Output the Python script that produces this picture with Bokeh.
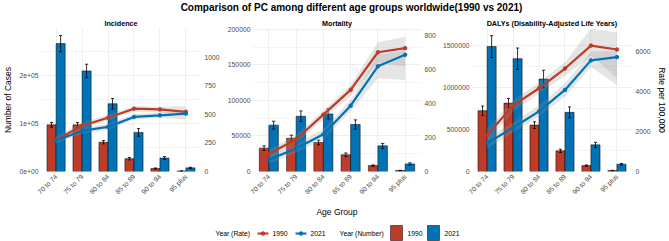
import math
from bokeh.plotting import figure
from bokeh.models import (FactorRange, Range1d, LinearAxis, FixedTicker, ColumnDataSource,
                          Label, BasicTickFormatter)
from bokeh.layouts import column, row
from bokeh.transform import dodge
from bokeh.embed import file_html
from bokeh.resources import INLINE

# ---------------- data ----------------
ages = ["70 to 74", "75 to 79", "80 to 84", "85 to 89", "90 to 94", "95 plus"]
years = ["1990", "2021"]

# Incidence
inc_num_1990 = [97500, 97500, 61200, 26800, 6200, 1000]
inc_num_2021 = [267400, 210300, 141600, 81800, 28200, 7600]
inc_err_1990 = [5000, 5000, 3500, 2500, 1200, 400]
inc_err_2021 = [17000, 14000, 11000, 8000, 3000, 1200]
inc_rate_1990 = [275, 400, 470, 549, 543, 522]
inc_rate_2021 = [270, 356, 390, 477, 491, 506]
inc_lo_1990 = [245, 375, 445, 525, 515, 490]
inc_hi_1990 = [305, 425, 495, 570, 565, 571]
inc_lo_2021 = [245, 330, 365, 455, 470, 455]
inc_hi_2021 = [295, 380, 415, 500, 515, 530]

# Mortality
mor_num_1990 = [32900, 46800, 40800, 23600, 8300, 1400]
mor_num_2021 = [65300, 77800, 81100, 66200, 36100, 10700]
mor_err_1990 = [3200, 4300, 3300, 2500, 1000, 300]
mor_err_2021 = [5500, 7500, 7000, 6500, 3500, 1500]
mor_rate_1990 = [103, 190, 335, 481, 703, 727]
mor_rate_2021 = [70, 136, 219, 388, 620, 688]
mor_lo_1990 = [80, 165, 310, 445, 640, 620]
mor_hi_1990 = [130, 215, 360, 510, 762, 795]
mor_lo_2021 = [45, 110, 190, 355, 549, 539]
mor_hi_2021 = [95, 160, 250, 420, 690, 713]

# DALYs
daly_num_1990 = [724000, 814000, 552000, 246000, 70000, 12000]
daly_num_2021 = [1487000, 1343000, 1100000, 704000, 317000, 87000]
daly_err_1990 = [55000, 55000, 40000, 20000, 8000, 2000]
daly_err_2021 = [130000, 127000, 105000, 65000, 30000, 9000]
daly_rate_1990 = [1827, 3294, 4168, 5156, 6306, 6109]
daly_rate_2021 = [1417, 2193, 3012, 4084, 5565, 5728]
daly_lo_1990 = [1500, 3000, 3900, 4800, 5800, 4680]
daly_hi_1990 = [2150, 3550, 4450, 5480, 7150, 6960]
daly_lo_2021 = [1150, 1950, 2750, 3750, 5230, 4330]
daly_hi_2021 = [1700, 2450, 3300, 4400, 6000, 6060]

# tick labels
inc_ticks = [0, 100000, 200000]
inc_tick_labels = ["0e+00", "1e+05", "2e+05"]
inc_rate_ticks = [0, 250, 500, 750, 1000]
mor_ticks = [0, 50000, 100000, 150000, 200000]
mor_rate_ticks = [0, 200, 400, 600, 800]
daly_ticks = [0, 500000, 1000000, 1500000]
daly_rate_ticks = [0, 2000, 4000, 6000]

RED = "#BC3C29"
BLUE = "#0072B5"
FONT = "Liberation Sans"
TICK_COL = "#4D4D4D"
TICK_SIZE = "6.8px"
GRID = "#EBEBEB"

PANEL_H = 205
BW = 0.35


def style_axis(ax):
    ax.axis_line_color = None
    ax.major_tick_line_color = None
    ax.minor_tick_line_color = None
    ax.major_tick_out = 0
    ax.major_tick_in = 0
    ax.minor_tick_out = 0
    ax.minor_tick_in = 0
    ax.major_label_text_font = FONT
    ax.major_label_text_font_size = TICK_SIZE
    ax.major_label_text_color = TICK_COL
    ax.axis_label_text_font = FONT
    ax.axis_label_text_font_style = "normal"
    ax.axis_label_text_font_size = "8.5px"
    ax.axis_label_text_color = "black"


def make_panel(title, n90, n21, e90, e21, r90, r21, lo90, hi90, lo21, hi21,
               y_end, r_end, yticks, rticks, width, mbl, mbr,
               ylabels=None, left_label=None, right_label=None, x_label=None):
    src = ColumnDataSource(dict(
        age=ages, n90=n90, n21=n21,
        n90lo=[a - b for a, b in zip(n90, e90)], n90hi=[a + b for a, b in zip(n90, e90)],
        n21lo=[a - b for a, b in zip(n21, e21)], n21hi=[a + b for a, b in zip(n21, e21)],
        r90=r90, r21=r21, lo90=lo90, hi90=hi90, lo21=lo21, hi21=hi21))
    xr = FactorRange(factors=ages, range_padding=1 / 30, range_padding_units="percent")
    p = figure(x_range=xr, y_range=Range1d(0, y_end), width=width, height=PANEL_H,
               output_backend="svg", toolbar_location=None, title=title,
               min_border_left=mbl, min_border_right=mbr, min_border_top=14, min_border_bottom=46,
               outline_line_color=None, background_fill_color="white", border_fill_color="white")
    p.title.align = "center"
    p.title.text_font = FONT
    p.title.text_font_style = "bold"
    p.title.text_font_size = "7.2px"
    p.title.text_color = "black"
    p.title.standoff = 1
    p.title.offset = 0
    p.extra_y_ranges = {"rate": Range1d(0, r_end)}

    # grid
    p.xgrid.grid_line_color = GRID
    p.xgrid.grid_line_width = 0.8
    p.ygrid.grid_line_color = GRID
    p.ygrid.grid_line_width = 0.8
    p.ygrid.minor_grid_line_color = GRID
    p.ygrid.minor_grid_line_width = 0.5

    # bars with error bars
    for off, col, key in [(-BW / 2, RED, "n90"), (BW / 2, BLUE, "n21")]:
        p.vbar(x=dodge("age", off, range=xr), top=key, bottom=0, width=BW, source=src,
               fill_color=col, line_color="black", line_width=0.5)
        p.segment(x0=dodge("age", off, range=xr), x1=dodge("age", off, range=xr),
                  y0=key + "lo", y1=key + "hi", source=src, line_color="black", line_width=0.8)
        for end in ("lo", "hi"):
            p.segment(x0=dodge("age", off - 0.06, range=xr), x1=dodge("age", off + 0.06, range=xr),
                      y0=key + end, y1=key + end, source=src, line_color="black", line_width=0.8)

    # ribbons and rate lines
    for lo, hi in [("lo90", "hi90"), ("lo21", "hi21")]:
        p.varea(x="age", y1=lo, y2=hi, source=src, y_range_name="rate",
                fill_color="#999999", fill_alpha=0.25)
    for key, col in [("r90", RED), ("r21", BLUE)]:
        p.line(x="age", y=key, source=src, y_range_name="rate", line_color=col, line_width=2.2)
        p.scatter(x="age", y=key, source=src, y_range_name="rate", size=3.5, marker="circle",
                  fill_color=col, line_color=col)

    # axes
    yax = p.yaxis[0]
    minor = [(a + b) / 2 for a, b in zip(yticks[:-1], yticks[1:])] + [yticks[-1] + (yticks[1] - yticks[0]) / 2]
    yax.ticker = FixedTicker(ticks=yticks, minor_ticks=minor)
    if ylabels:
        yax.major_label_overrides = {t: l for t, l in zip(yticks, ylabels)}
    else:
        yax.formatter = BasicTickFormatter(use_scientific=False)
    style_axis(yax)
    yax.major_label_standoff = 2
    if left_label:
        yax.axis_label = left_label
        yax.axis_label_standoff = 3

    rax = LinearAxis(y_range_name="rate", ticker=FixedTicker(ticks=rticks),
                     formatter=BasicTickFormatter(use_scientific=False))
    style_axis(rax)
    rax.major_label_standoff = 3
    if right_label:
        rax.axis_label = right_label
        rax.axis_label_standoff = 3
    p.add_layout(rax, "right")

    xax = p.xaxis[0]
    style_axis(xax)
    xax.major_label_orientation = math.pi / 4
    xax.major_label_standoff = 4
    if x_label:
        xax.axis_label = x_label
        xax.axis_label_standoff = 6
    return p


p1 = make_panel("Incidence", inc_num_1990, inc_num_2021, inc_err_1990, inc_err_2021,
                inc_rate_1990, inc_rate_2021, inc_lo_1990, inc_hi_1990, inc_lo_2021, inc_hi_2021,
                299000, 1250, inc_ticks, inc_rate_ticks, 224, 36, 23,
                ylabels=inc_tick_labels, left_label="Number of Cases")
p2 = make_panel("Mortality", mor_num_1990, mor_num_2021, mor_err_1990, mor_err_2021,
                mor_rate_1990, mor_rate_2021, mor_lo_1990, mor_hi_1990, mor_lo_2021, mor_hi_2021,
                201400, 843, mor_ticks, mor_rate_ticks, 216, 28, 19, x_label="Age Group")
p3 = make_panel("DALYs (Disability-Adjusted Life Years)", daly_num_1990, daly_num_2021,
                daly_err_1990, daly_err_2021, daly_rate_1990, daly_rate_2021,
                daly_lo_1990, daly_hi_1990, daly_lo_2021, daly_hi_2021,
                1702000, 7160, daly_ticks, daly_rate_ticks, 229, 30, 30,
                right_label="Rate per 100,000")

# ---------------- title ----------------
tf = figure(width=669, height=14, x_range=Range1d(0, 669), y_range=Range1d(0, 14),
            output_backend="svg", toolbar_location=None, min_border=0,
            outline_line_color=None, x_axis_location=None, y_axis_location=None)
tf.grid.visible = False
tf.add_layout(Label(x=351, y=7, text="Comparison of PC among different age groups worldwide(1990 vs 2021)",
                    text_font=FONT, text_font_style="bold", text_font_size="10px",
                    text_align="center", text_baseline="middle", text_color="black"))

# ---------------- legend ----------------
lf = figure(width=669, height=22, x_range=Range1d(0, 669), y_range=Range1d(0, 22),
            output_backend="svg", toolbar_location=None, min_border=0,
            outline_line_color=None, x_axis_location=None, y_axis_location=None)
lf.grid.visible = False
LY = 8


def ltext(x, t):
    lf.add_layout(Label(x=x, y=LY, text=t, text_font=FONT, text_font_size="6.8px",
                        text_align="left", text_baseline="middle", text_color="black"))


ltext(215, "Year (Rate)")
for x0, col, yr in [(257, RED, years[0]), (295, BLUE, years[1])]:
    lf.line(x=[x0, x0 + 11], y=[LY, LY], line_color=col, line_width=2.2)
    lf.scatter(x=[x0 + 5.5], y=[LY], size=3.5, fill_color=col, line_color=col)
    ltext(x0 + 15, yr)
ltext(339, "Year (Number)")
for x0, col, yr in [(390, RED, years[0]), (427, BLUE, years[1])]:
    lf.quad(left=[x0], right=[x0 + 12], bottom=[1], top=[16], fill_color=col,
            line_color="black", line_width=0.5)
    ltext(x0 + 17, yr)

layout = column(tf, row(p1, p2, p3), lf)
open("out.html", "w").write(file_html(layout, INLINE))
